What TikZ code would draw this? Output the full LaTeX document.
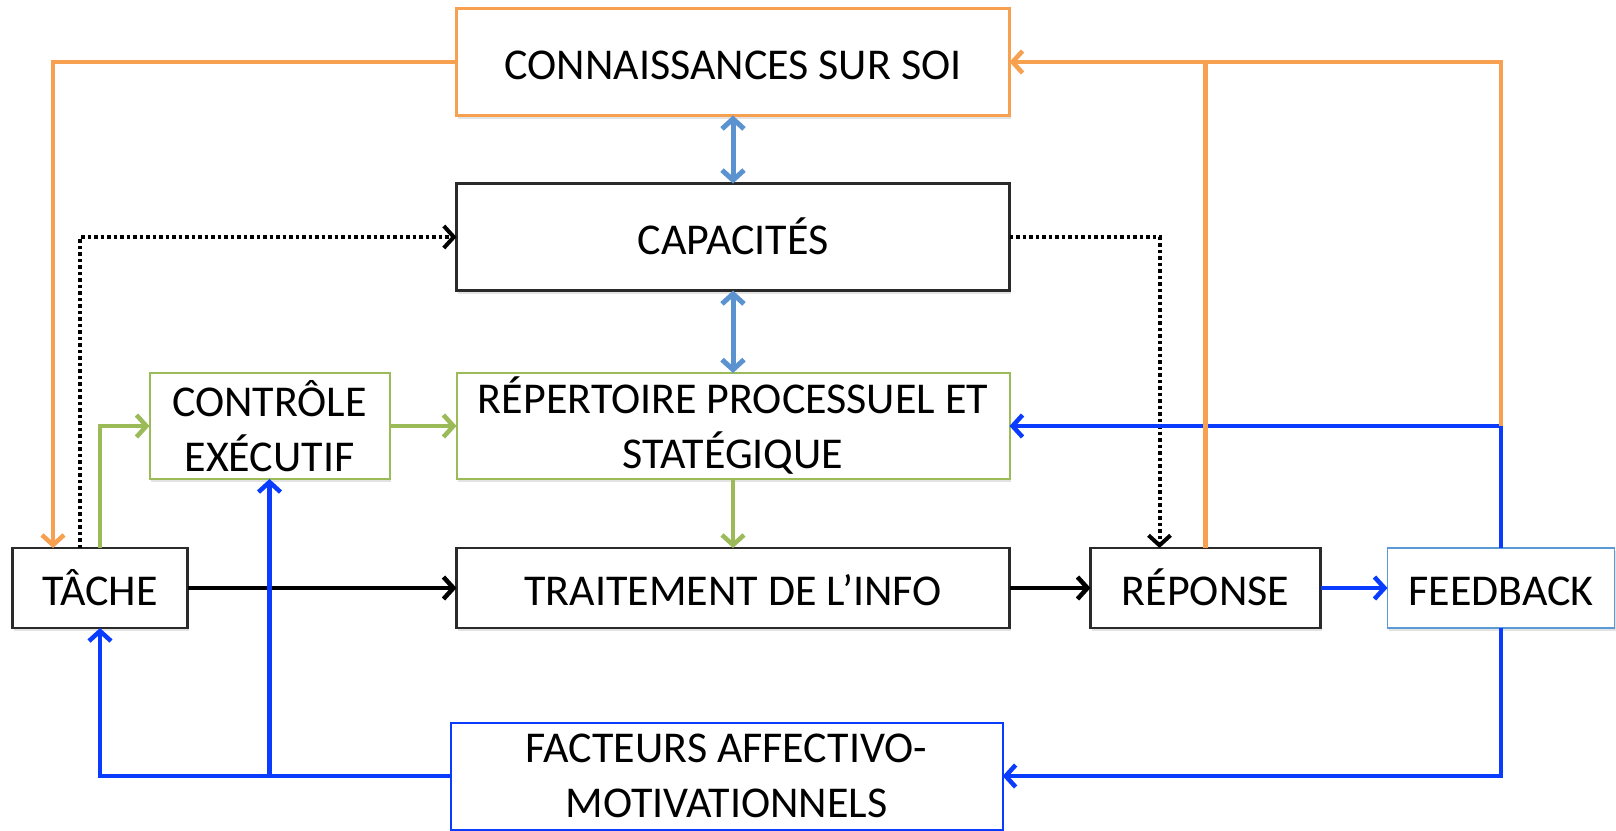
\documentclass[tikz,border=0pt]{standalone}
\usepackage{fontspec}
\setmainfont{Carlito}
\usetikzlibrary{arrows.meta,shadows,calc}
\definecolor{orangeC}{HTML}{F6A050}
\definecolor{greenC}{HTML}{9BBB59}
\definecolor{steelC}{HTML}{5B93D0}
\definecolor{blueC}{HTML}{0A3CFF}
\definecolor{lightblueC}{HTML}{5B9BD5}
\definecolor{boxblack}{HTML}{2A2A2A}
\begin{document}
\begin{tikzpicture}[x=1pt,y=-1pt,
  box/.style={draw=boxblack,line width=2.5pt,fill=white,inner sep=0pt,outer sep=0pt,
    align=center,font=\fontsize{44}{55}\selectfont,
    drop shadow={shadow xshift=1pt,shadow yshift=-3pt,opacity=0.22}},
  oneline/.style={text height=36pt,text depth=2pt},
  tip/.style={-{Straight Barb[length=10pt,width=22pt]}},
  orangeline/.style={draw=orangeC,line width=4.5pt},
  greenline/.style={draw=greenC,line width=4.5pt},
  blueline/.style={draw=blueC,line width=4.5pt},
  blackline/.style={draw=black,line width=4.5pt},
  dotline/.style={draw=black,line width=4pt,dash pattern=on 3.5pt off 3pt},
  steelline/.style={draw=steelC,line width=5pt,{Straight Barb[length=10pt,width=22pt]}-{Straight Barb[length=10pt,width=22pt]}}
]
\useasboundingbox (0,0) rectangle (1616,830);

\node[box,oneline,draw=orangeC,line width=3pt,minimum width=553pt,minimum height=107pt] (conn) at (733,62) {CONNAISSANCES SUR SOI};
\node[box,oneline,minimum width=553pt,minimum height=107pt] (cap) at (733,237) {CAPACITÉS};
\node[box,draw=greenC,line width=2pt,minimum width=240pt,minimum height=106pt] (ctrl) at (269.5,426) {CONTRÔLE\\EXÉCUTIF};
\node[box,draw=greenC,line width=2pt,minimum width=553pt,minimum height=106pt] (rep) at (733,426) {RÉPERTOIRE PROCESSUEL ET\\STATÉGIQUE};
\node[box,oneline,minimum width=175pt,minimum height=80pt] (tache) at (100,588) {TÂCHE};
\node[box,oneline,minimum width=553pt,minimum height=80pt] (trait) at (733,588) {TRAITEMENT DE L’INFO};
\node[box,oneline,minimum width=230pt,minimum height=80pt] (repo) at (1205.5,588) {RÉPONSE};
\node[box,oneline,draw=lightblueC,line width=1.5pt,minimum width=227pt,minimum height=80pt] (feed) at (1501,588) {FEEDBACK};
\node[box,draw=blueC,line width=2pt,minimum width=552pt,minimum height=107pt] (fact) at (726.6,776) {FACTEURS AFFECTIVO-\\MOTIVATIONNELS};

\coordinate (orL) at ([xshift=-47pt]tache.north);
\coordinate (dotL) at ([xshift=-20pt]tache.north);
\coordinate (dotR) at ([xshift=-46pt]repo.north);
\coordinate (fbUp) at (feed.north |- rep.east);
\coordinate (ctrlJ) at (fact.west -| ctrl.south);

% black
\draw[blackline,tip] (tache.east) -- (trait.west);
\draw[blackline,tip] (trait.east) -- (repo.west);
% dotted
\draw[dotline,tip] (dotL) |- (cap.west);
\draw[dotline,tip] (cap.east) -| (dotR);
% green
\draw[greenline,tip] (tache.north) |- (ctrl.west);
\draw[greenline,tip] (ctrl.east) -- (rep.west);
\draw[greenline,tip] (rep.south) -- (trait.north);
% steel blue double arrows
\draw[steelline] (conn.south) -- (cap.north);
\draw[steelline] (cap.south) -- (rep.north);
% blue
\draw[blueline,tip] (repo.east) -- (feed.west);
\draw[blueline,tip] (feed.north) |- (rep.east);
\draw[blueline,tip] (feed.south) |- (fact.east);
\draw[blueline,tip] (fact.west) -| (tache.south);
\draw[blueline,tip] (ctrlJ) -- (ctrl.south);
% orange
\draw[orangeline,tip] (conn.west) -| (orL);
\draw[orangeline,tip] (fbUp) |- (conn.east);
\draw[orangeline] (repo.north) -- (repo.north |- conn.east);
\end{tikzpicture}
\end{document}
